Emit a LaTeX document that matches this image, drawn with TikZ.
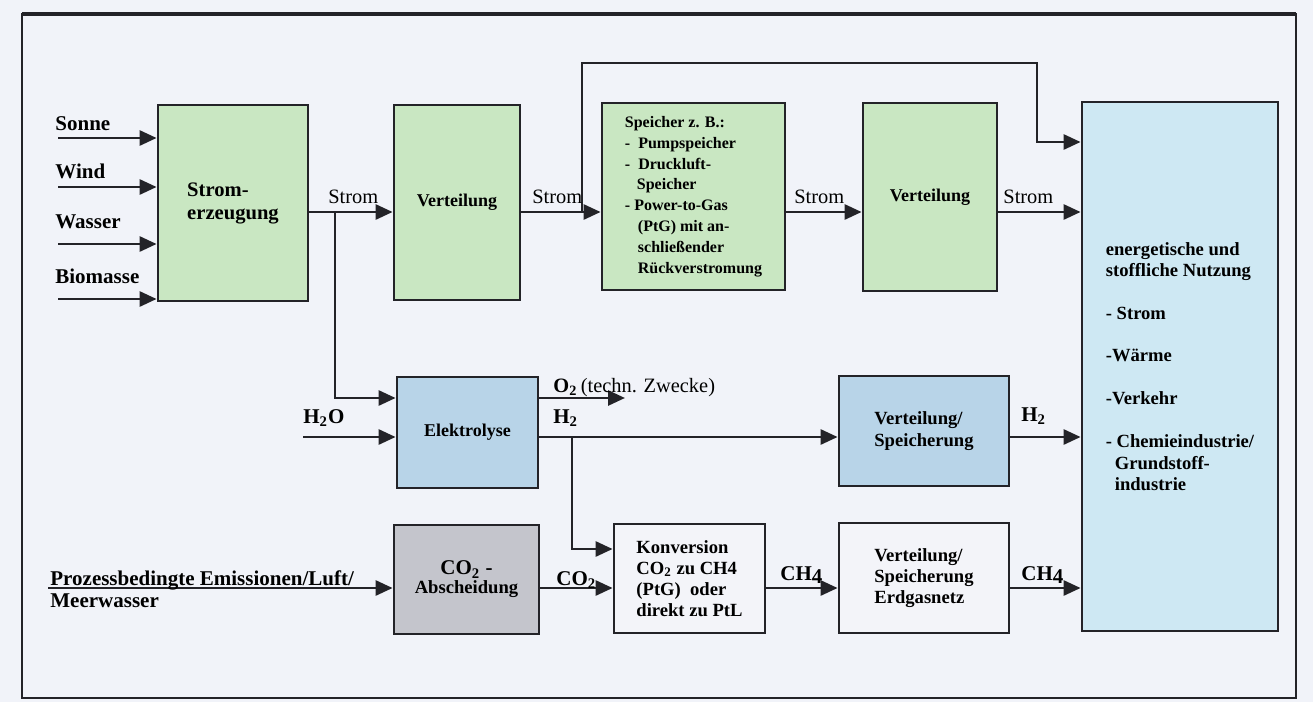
\documentclass[tikz,border=0pt]{standalone}
\usepackage{fontspec}
\setmainfont{Liberation Serif}
\usetikzlibrary{arrows.meta}

\definecolor{papier}{RGB}{241,243,249}
\definecolor{linie}{RGB}{35,35,40}
\definecolor{gruen}{RGB}{201,231,194}
\definecolor{blau}{RGB}{184,212,232}
\definecolor{hellblau}{RGB}{206,232,243}
\definecolor{grau}{RGB}{196,197,204}
\definecolor{weiss}{RGB}{243,244,249}

\begin{document}
\begin{tikzpicture}[x=0.5pt, y=-0.5pt,
        kasten/.style={draw=linie, line width=1.4pt, inner sep=1pt, align=left, font=\bfseries\fontsize{9.3}{11}\selectfont},
        pfeil/.style={draw=linie, line width=1.4pt, -{Triangle[length=8.5pt, width=7.5pt]}},
        marke/.style={inner sep=0pt, anchor=base west, font=\bfseries\fontsize{10.5}{12.5}\selectfont},
        fluss/.style={inner sep=0pt, anchor=base west, font=\fontsize{10.2}{12}\selectfont}
    ]
        % Hintergrund und Rahmen
        \useasboundingbox (0,0) rectangle (1313,702);
        \fill[papier] (0,0) rectangle (1313,702);
        \draw[linie, line width=1.3pt] (22,14) rectangle (1296,698);
        \draw[linie, line width=2.2pt] (22,14) -- (1296,14);

        % Kaesten
        \node[kasten, fill=gruen, minimum width=75pt, minimum height=98pt, font=\bfseries\fontsize{10.3}{11.5}\selectfont] (erz) at (233,203) {Strom-\\erzeugung};
        \node[kasten, fill=gruen, minimum width=63pt, minimum height=97.5pt, font=\bfseries\fontsize{9}{11}\selectfont] (vt1) at (457,202.5) {Verteilung};
        \node[kasten, fill=gruen, minimum width=91.5pt, minimum height=93.5pt, font=\bfseries\fontsize{8}{10.4}\selectfont] (spc) at (693.5,196.5)
            {Speicher z. B.:\\-\hspace*{4pt}Pumpspeicher\\-\hspace*{4pt}Druckluft-\\\hspace*{6pt}Speicher\\- Power-to-Gas\\\hspace*{6.5pt}(PtG) mit an-\\\hspace*{6.5pt}schließender\\\hspace*{6.5pt}Rückverstromung};
        \node[kasten, fill=gruen, minimum width=67pt, minimum height=94pt, font=\bfseries\fontsize{9}{11}\selectfont] (vt2) at (930,197) {Verteilung};
        \node[kasten, fill=hellblau, minimum width=98pt, minimum height=264.5pt, font=\bfseries\fontsize{9.3}{10.75}\selectfont] (nutz) at (1180,366.5)
            {energetische und\\stoffliche Nutzung\\[10.75pt]- Strom\\[10pt]-Wärme\\[11pt]-Verkehr\\[10.75pt]- Chemieindustrie/\\\hspace*{4.5pt}Grundstoff-\\\hspace*{4.5pt}industrie};
        \node[kasten, fill=blau, minimum width=70.5pt, minimum height=55.5pt, font=\bfseries\fontsize{9}{11}\selectfont] (ely) at (467.5,432.5) {Elektrolyse};
        \node[kasten, fill=blau, minimum width=85pt, minimum height=55pt] (vsp) at (924,431) {Verteilung/\\Speicherung};
        \node[kasten, fill=grau, align=center, minimum width=72.5pt, minimum height=54.5pt] (co2) at (466.5,579.5)
            {{\fontsize{10.5}{12}\selectfont CO\textsubscript{2} -}\\[-1.5pt]Abscheidung};
        \node[kasten, fill=weiss, minimum width=75.5pt, minimum height=54.5pt, font=\bfseries\fontsize{9.3}{10.5}\selectfont] (konv) at (689.5,578.5)
            {Konversion\\CO\textsubscript{2} zu CH4\\(PtG)~ oder\\direkt zu PtL};
        \node[kasten, fill=weiss, minimum width=85pt, minimum height=55pt, font=\bfseries\fontsize{9.3}{10.5}\selectfont] (erd) at (924,578) {Verteilung/\\Speicherung\\Erdgasnetz};

        % Hilfspunkte
        \coordinate (s0) at (0,212);
        \coordinate (b0) at (335,212);
        \coordinate (r0) at (582,212);
        \coordinate (r1) at (1037,63);
        \coordinate (r2) at (0,142);
        \coordinate (e0) at (0,398);
        \coordinate (w0) at (303,437);
        \coordinate (o2) at (625,398);
        \coordinate (h0) at (572,437);
        \coordinate (k0) at (0,549);
        \coordinate (c0) at (48,588);

        % Eingaenge
        \foreach \y/\b/\txt in {138/130/Sonne, 187/178/Wind, 244/228/Wasser, 299/283/Biomasse} {
            \coordinate (in\y) at (58,\y);
            \node[marke] (q\y) at (55,\b) {\txt};
            \draw[pfeil] (in\y) -- (erz.west |- in\y);
        }

        % Strom
        \draw[pfeil] (erz.east |- s0) -- (vt1.west |- s0);
        \draw[pfeil] (vt1.east |- s0) -- (spc.west |- s0);
        \draw[pfeil] (spc.east |- s0) -- (vt2.west |- s0);
        \draw[pfeil] (vt2.east |- s0) -- (nutz.west |- s0);
        \draw[pfeil] (r0) |- (r1) |- (nutz.west |- r2);
        \node[fluss] (st1) at (328,203) {Strom};
        \node[fluss] (st2) at (532,203) {Strom};
        \node[fluss] (st3) at (794,203) {Strom};
        \node[fluss] (st4) at (1003,203) {Strom};

        % Elektrolyse
        \draw[pfeil] (b0) |- (ely.west |- e0);
        \draw[pfeil] (w0) -- (ely.west |- w0);
        \draw[pfeil] (ely.east |- o2) -- (o2);
        \draw[pfeil] (ely.east |- w0) -- (vsp.west |- w0);
        \draw[pfeil] (h0) |- (konv.west |- k0);
        \draw[pfeil] (vsp.east |- w0) -- (nutz.west |- w0);
        \node[marke] (h2o) at (303,423) {H\textsubscript{2}O};
        \node[fluss] (o2t) at (553,392) {\textbf{O\textsubscript{2}}\,(techn. Zwecke)};
        \node[marke] (h2a) at (553,423) {H\textsubscript{2}};
        \node[marke] (h2b) at (1021,421) {H\textsubscript{2}};

        % CO2 und CH4
        \draw[pfeil] (c0) -- (co2.west |- c0);
        \draw[pfeil] (co2.east |- c0) -- (konv.west |- c0);
        \draw[pfeil] (konv.east |- c0) -- (erd.west |- c0);
        \draw[pfeil] (erd.east |- c0) -- (nutz.west |- c0);
        \node[marke] (em1) at (50,585) {Prozessbedingte Emissionen/Luft/};
        \node[marke] (em2) at (50,607) {Meerwasser};
        \node[marke] (co2t) at (556,585) {CO\textsubscript{2}};
        \node[marke] (ch4a) at (780,580) {CH\raisebox{-1.5pt}{4}};
        \node[marke] (ch4b) at (1021,580) {CH\raisebox{-1.5pt}{4}};
    \end{tikzpicture}
\end{document}
